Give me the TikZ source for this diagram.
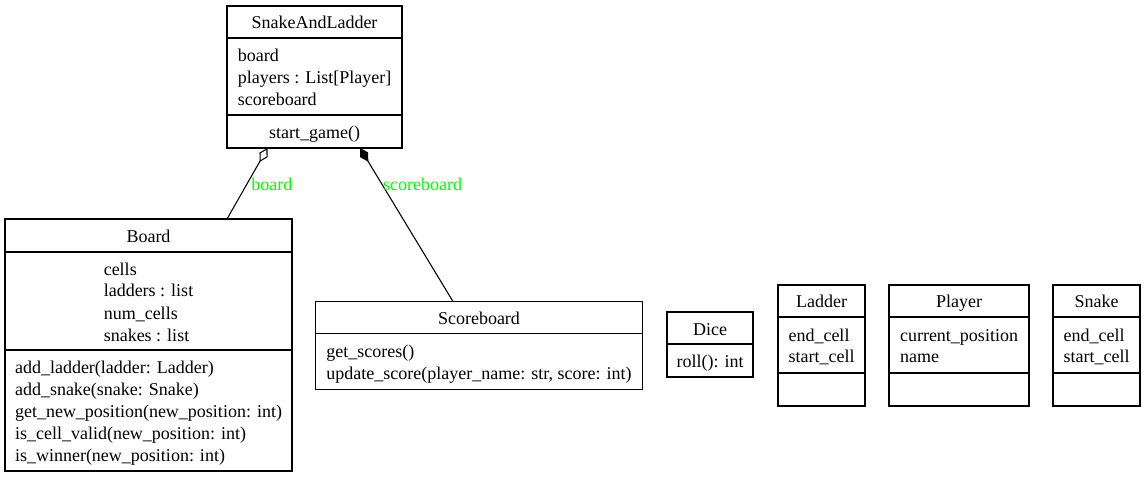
\documentclass[tikz,border=0pt]{standalone}
\usepackage{fontspec}
\setmainfont{Liberation Serif}
\usetikzlibrary{positioning, arrows.meta, calc}

\begin{document}
\begin{tikzpicture}[x=0.75pt, y=-0.75pt,
  every node/.style={font=\fontsize{13.5}{16.5}\selectfont},
  classbox/.style={draw, line width=0.8pt, inner sep=0pt, outer sep=0pt, align=left, text depth=3.2pt},
  boxsize/.style 2 args={minimum width=#1*0.75pt, minimum height=#2*0.75pt},
  lines/.style={text height=16.5*#1pt-2.8pt}]
  \useasboundingbox (0,0) rectangle (1146,477);

  % SnakeAndLadder
  \node[classbox, boxsize={175}{32}, lines=1, anchor=north] (sl) at (314.5,6) {SnakeAndLadder};
  \node[classbox, boxsize={175}{77}, lines=3, below=0pt of sl] (slattr) {board\\players : List[Player]\\scoreboard};
  \node[classbox, boxsize={175}{33}, lines=1, below=0pt of slattr] (slop) {start\_game()};

  % Board
  \node[classbox, boxsize={287}{33}, lines=1, anchor=north] (board) at (148.5,219) {Board};
  \node[classbox, boxsize={287}{98}, lines=4, below=0pt of board] (boardattr) {cells\\ladders : list\\num\_cells\\snakes : list};
  \node[classbox, boxsize={287}{121}, lines=5, below=0pt of boardattr] (boardop) {add\_ladder(ladder: Ladder)\\add\_snake(snake: Snake)\\get\_new\_position(new\_position: int)\\is\_cell\_valid(new\_position: int)\\is\_winner(new\_position: int)};

  % Scoreboard
  \node[classbox, boxsize={327}{32}, lines=1, anchor=north] (score) at (479,301.5) {Scoreboard};
  \node[classbox, boxsize={327}{56}, lines=2, below=0pt of score] (scoreop) {get\_scores()\\update\_score(player\_name: str, score: int)};

  % Dice
  \node[classbox, boxsize={86}{32}, lines=1, anchor=north] (dice) at (710,312) {Dice};
  \node[classbox, boxsize={86}{33}, lines=1, below=0pt of dice] (diceop) {roll(): int};

  % Ladder
  \node[classbox, boxsize={87}{32}, lines=1, anchor=north] (ladder) at (821.5,285) {Ladder};
  \node[classbox, boxsize={87}{56}, lines=2, below=0pt of ladder] (ladderattr) {end\_cell\\start\_cell};
  \node[classbox, boxsize={87}{33}, lines=1, below=0pt of ladderattr] (ladderop) {};

  % Player
  \node[classbox, boxsize={140}{32}, lines=1, anchor=north] (player) at (959,285) {Player};
  \node[classbox, boxsize={140}{56}, lines=2, below=0pt of player] (playerattr) {current\_position\\name};
  \node[classbox, boxsize={140}{33}, lines=1, below=0pt of playerattr] (playerop) {};

  % Snake
  \node[classbox, boxsize={87}{32}, lines=1, anchor=north] (snake) at (1096.5,285) {Snake};
  \node[classbox, boxsize={87}{56}, lines=2, below=0pt of snake] (snakeattr) {end\_cell\\start\_cell};
  \node[classbox, boxsize={87}{33}, lines=1, below=0pt of snakeattr] (snakeop) {};

  % associations
  \draw[line width=0.8pt, -{Diamond[open, length=12pt, width=7pt]}] ($(board.north)+(78.5,0)$) -- node[pos=0.49, right, text=green, inner sep=3pt] (boardlbl) {board} ($(slop.south)+(-47,0)$);
  \draw[line width=0.8pt, -{Diamond[length=12pt, width=7pt]}] ($(score.north)+(-26,0)$) -- node[pos=0.765, right, text=green, inner sep=0.5pt] (scorelbl) {scoreboard} ($(slop.south)+(45.5,0)$);
\end{tikzpicture}
\end{document}
